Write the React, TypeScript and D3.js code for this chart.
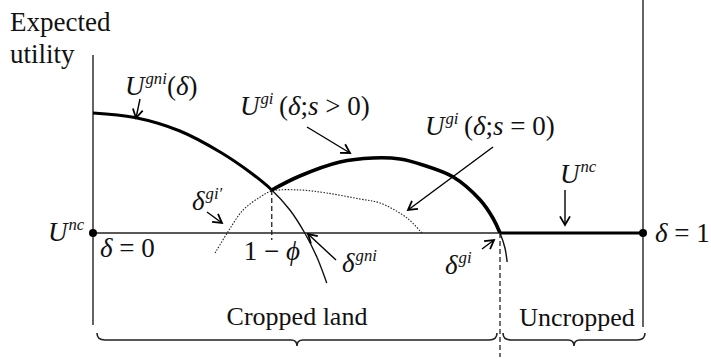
import React from 'react';
import * as d3 from 'd3';

// δ on the horizontal axis (0 .. 1), expected utility relative to U^nc on the vertical
const gniCurve: [number, number][] = [
  [0, 1.2], [0.076, 1.155], [0.158, 1.02], [0.231, 0.81], [0.285, 0.61], [0.325, 0.43],
  [0.358, 0.23], [0.385, 0], [0.407, -0.24], [0.425, -0.5],
];
const giPosCurve: [number, number][] = [
  [0.325, 0.43], [0.376, 0.57], [0.449, 0.71], [0.509, 0.75], [0.558, 0.74], [0.6, 0.68],
  [0.655, 0.56], [0.704, 0.33], [0.727, 0.15], [0.74, 0], [0.749, -0.15], [0.753, -0.29],
];
const giZeroCurve: [number, number][] = [
  [0.222, -0.2], [0.244, 0], [0.273, 0.23], [0.304, 0.36], [0.325, 0.42], [0.376, 0.43],
  [0.425, 0.4], [0.485, 0.34], [0.522, 0.3], [0.571, 0.15], [0.598, 0],
];
const onePhi = 0.325;
const deltaGi = 0.74;
const uncLevel = 0;

const W = 711;
const H = 359;
const SERIF = '"Liberation Serif", "Times New Roman", serif';

const x = d3.scaleLinear().domain([0, 1]).range([93, 643]);
const y = d3.scaleLinear().domain([0, 1]).range([233, 133]);

const line = d3.line<[number, number]>()
  .x(d => x(d[0]))
  .y(d => y(d[1]))
  .curve(d3.curveCatmullRom.alpha(0.5));

function Arrow({ x1, y1, x2, y2 }: { x1: number; y1: number; x2: number; y2: number }) {
  const a = Math.atan2(y2 - y1, x2 - x1);
  const len = 10;
  const spread = Math.PI / 6;
  const p1 = [x2 - len * Math.cos(a - spread), y2 - len * Math.sin(a - spread)];
  const p2 = [x2 - len * Math.cos(a + spread), y2 - len * Math.sin(a + spread)];
  return (
    <g stroke="#000" fill="none" strokeWidth={1.4}>
      <line x1={x1} y1={y1} x2={x2} y2={y2} />
      <path d={`M${p1[0]},${p1[1]} L${x2},${y2} L${p2[0]},${p2[1]}`} strokeWidth={1.8} />
    </g>
  );
}

function Brace({ x1, x2, yTop }: { x1: number; x2: number; yTop: number }) {
  const mid = (x1 + x2) / 2;
  const yl = yTop + 7;
  const tip = yTop + 13;
  const d = `M${x1},${yTop} Q${x1},${yl} ${x1 + 8},${yl} L${mid - 6},${yl} Q${mid},${yl} ${mid},${tip} ` +
    `Q${mid},${yl} ${mid + 6},${yl} L${x2 - 8},${yl} Q${x2},${yl} ${x2},${yTop}`;
  return <path d={d} fill="none" stroke="#222" strokeWidth={1.6} />;
}

// math label: base letter, optional superscript, rest
function MathLabel({ px, py, base, sup, rest, size = 27 }:
  { px: number; py: number; base: string; sup?: string; rest?: React.ReactNode; size?: number }) {
  return (
    <text x={px} y={py} fontSize={size} fill="#111" style={{ fontFamily: SERIF }}>
      <tspan fontStyle="italic">{base}</tspan>
      {sup && <tspan fontStyle="italic" fontSize={size * 0.62} dy={-11} dx={1}>{sup}</tspan>}
      {rest && <tspan dy={sup ? 11 : 0}>{rest}</tspan>}
    </text>
  );
}

export default function App() {
  const y0 = y(uncLevel);
  const gniPath = line(gniCurve) ?? '';
  const giPath = line(giPosCurve) ?? '';

  return (
    <svg width={W} height={H} style={{ position: 'absolute', left: 0, top: 0, background: '#fff', fontFamily: SERIF }}>
      <defs>
        <clipPath id="leftOfPhi"><rect x={0} y={0} width={x(onePhi)} height={H} /></clipPath>
        <clipPath id="rightOfPhi"><rect x={x(onePhi)} y={0} width={W} height={H} /></clipPath>
        <clipPath id="aboveBase"><rect x={0} y={0} width={W} height={y0} /></clipPath>
      </defs>

      {/* axes */}
      <line x1={x(0)} y1={55} x2={x(0)} y2={325} stroke="#222" strokeWidth={1.4} />
      <line x1={x(1)} y1={0} x2={x(1)} y2={327} stroke="#222" strokeWidth={1.4} />
      <line x1={x(0)} y1={y0} x2={x(1)} y2={y0} stroke="#222" strokeWidth={1.4} />
      <line x1={x(deltaGi)} y1={y0} x2={x(1)} y2={y0} stroke="#000" strokeWidth={3} />

      {/* dashed guides */}
      <line x1={x(onePhi)} y1={y(0.43)} x2={x(onePhi)} y2={240} stroke="#222" strokeWidth={1.3} strokeDasharray="5,3" />
      <line x1={x(deltaGi)} y1={y0} x2={x(deltaGi)} y2={357} stroke="#222" strokeWidth={1.3} strokeDasharray="5,3" />

      {/* curves */}
      <path d={line(giZeroCurve) ?? ''} fill="none" stroke="#222" strokeWidth={1.1} strokeDasharray="1.5,1.5" />
      <path d={gniPath} fill="none" stroke="#000" strokeWidth={3} clipPath="url(#leftOfPhi)" />
      <path d={gniPath} fill="none" stroke="#111" strokeWidth={1.4} clipPath="url(#rightOfPhi)" />
      <path d={giPath} fill="none" stroke="#111" strokeWidth={1.4} />
      <path d={giPath} fill="none" stroke="#000" strokeWidth={3.6} clipPath="url(#aboveBase)" />

      <circle cx={x(0)} cy={y0} r={4} fill="#000" />
      <circle cx={x(1)} cy={y0} r={4} fill="#000" />

      {/* axis title */}
      <text x={10} y={31} fontSize={27} fill="#111">Expected</text>
      <text x={10} y={63} fontSize={27} fill="#111">utility</text>

      {/* labels */}
      <MathLabel px={125} py={95} base="U" sup="gni" rest={<>(<tspan fontStyle="italic">δ</tspan>)</>} />
      <Arrow x1={140} y1={99} x2={136} y2={118} />

      <MathLabel px={240} py={115} base="U" sup="gi" rest={<>{'\u2009'}(<tspan fontStyle="italic">δ</tspan>;<tspan fontStyle="italic">s</tspan> &gt; 0)</>} />
      <Arrow x1={307} y1={127} x2={350} y2={153} />

      <MathLabel px={425} py={135} base="U" sup="gi" rest={<>{'\u2009'}(<tspan fontStyle="italic">δ</tspan>;<tspan fontStyle="italic">s</tspan> = 0)</>} />
      <Arrow x1={493} y1={147} x2={408} y2={210} />

      <MathLabel px={560} py={183} base="U" sup="nc" />
      <Arrow x1={565} y1={190} x2={565} y2={225} />

      <MathLabel px={48} py={241} base="U" sup="nc" />

      <text x={100} y={257} fontSize={27} fill="#111">
        <tspan fontStyle="italic">δ</tspan> = 0
      </text>
      <text x={655} y={242} fontSize={27} fill="#111">
        <tspan fontStyle="italic">δ</tspan> = 1
      </text>
      <text x={x(onePhi)} y={260} fontSize={27} fill="#111" textAnchor="middle">
        1 − <tspan fontStyle="italic">ϕ</tspan>
      </text>

      <MathLabel px={192} py={210} base="δ" sup="gi′" />
      <Arrow x1={207} y1={212} x2={222} y2={223} />

      <MathLabel px={342} py={272} base="δ" sup="gni" />
      <Arrow x1={336} y1={260} x2={308} y2={234} />

      <MathLabel px={445} py={274} base="δ" sup="gi" />
      <Arrow x1={482} y1={249} x2={494} y2={240} />

      {/* region braces */}
      <text x={297} y={325} fontSize={26} fill="#111" textAnchor="middle">Cropped land</text>
      <text x={577} y={326} fontSize={26} fill="#111" textAnchor="middle">Uncropped</text>
      <Brace x1={97} x2={497} yTop={333} />
      <Brace x1={503} x2={645} yTop={333} />
    </svg>
  );
}
